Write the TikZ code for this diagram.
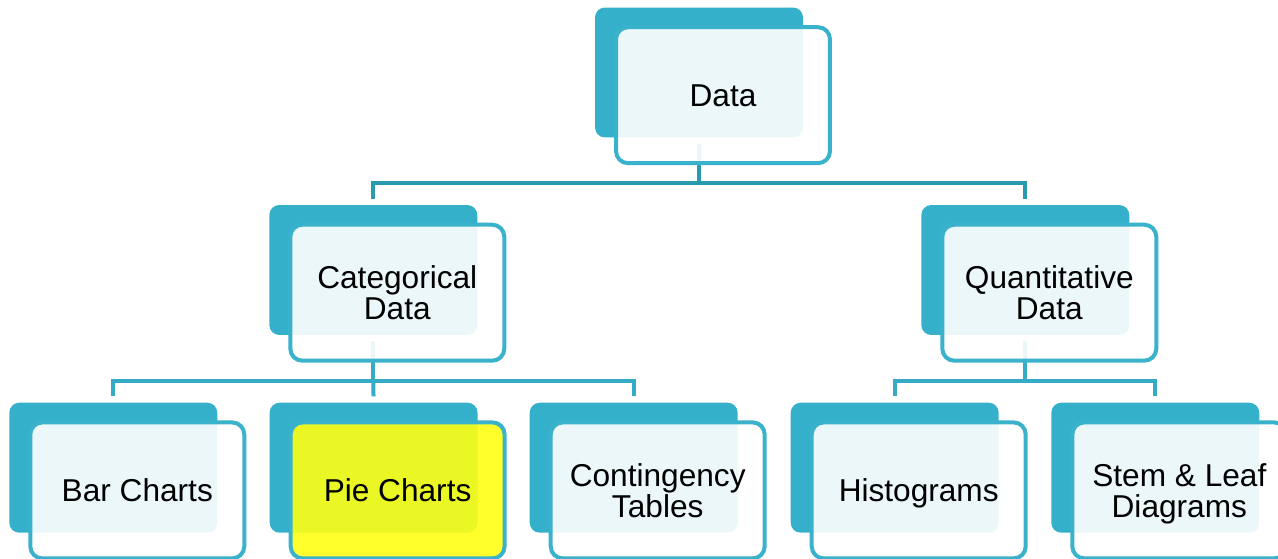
\documentclass[tikz,border=0pt]{standalone}
\usepackage{fontspec}
\setmainfont{Liberation Sans}
\usetikzlibrary{positioning}
\definecolor{cyanbox}{RGB}{53,176,203}
\definecolor{cyanedge}{RGB}{58,178,204}
\definecolor{linkdark}{RGB}{42,154,174}
\definecolor{linklight}{RGB}{53,171,198}
\definecolor{pieyellow}{RGB}{255,255,20}
\pgfdeclarelayer{links}
\pgfsetlayers{links,main}

\begin{document}
\begin{tikzpicture}[x=0.02cm,y=-0.02cm,
  back/.style={rectangle, rounded corners=0.2cm, fill=cyanbox,
    minimum width=4.16cm, minimum height=2.6cm, inner sep=0pt},
  front/.style={rectangle, rounded corners=0.24cm, draw=cyanedge,
    line width=0.08cm, fill=white, fill opacity=0.9, text opacity=1,
    minimum width=4.28cm, minimum height=2.72cm, inner sep=0pt,
    text depth=0pt, align=center, font=\fontsize{18}{18}\selectfont},
  link/.style={line width=0.08cm, shorten <=0.12cm, shorten >=0.12cm}]

%---------------------------------------
% Page size and offsets
%---------------------------------------
\useasboundingbox (0,0) rectangle (1278,558);
\def\dx{24}
\def\dy{22.7}
\def\rowA{72.5}
\def\rowB{270}
\def\rowC{467.7}

%====================================================
% TOP: Data
%====================================================
\node[back] (data-back) at (699,\rowA) {};
\node[front] (data) at ([shift={(\dx,\dy)}]data-back) {Data};

%====================================================
% MIDDLE: Categorical and Quantitative
%====================================================
\node[back] (cat-back) at (373.3,\rowB) {};
\node[front] (cat) at ([shift={(\dx,\dy)}]cat-back) {Categorical\\Data};

\node[back] (quant-back) at (1025.3,\rowB) {};
\node[front] (quant) at ([shift={(\dx,\dy)}]quant-back) {Quantitative\\Data};

%====================================================
% BOTTOM: chart types
%====================================================
\node[back] (bar-back) at (113.3,\rowC) {};
\node[front] (bar) at ([shift={(\dx,\dy)}]bar-back) {Bar Charts};

\node[back] (pie-back) at (373.6,\rowC) {};
\node[front, fill=pieyellow] (pie) at ([shift={(\dx,\dy)}]pie-back) {Pie Charts};

\node[back] (cont-back) at (633.7,\rowC) {};
\node[front] (cont) at ([shift={(\dx,\dy)}]cont-back) {Contingency\\Tables};

\node[back] (hist-back) at (894.7,\rowC) {};
\node[front] (hist) at ([shift={(\dx,\dy)}]hist-back) {Histograms};

\node[back] (stem-back) at (1155.3,\rowC) {};
\node[front] (stem) at ([shift={(\dx,\dy)}]stem-back) {Stem \& Leaf\\Diagrams};

%---------------------------------------
% Connectors (behind the boxes)
%---------------------------------------
\begin{pgfonlayer}{links}
  \coordinate (bus-data) at (699,183);
  \coordinate (bus-cat) at (373.3,380.7);
  \coordinate (bus-quant) at (1025.3,380.7);

  \draw[link, linkdark, shorten >=0pt] (data-back.south) -- (bus-data);
  \draw[link, linkdark, shorten <=0pt] (bus-data) -| (cat-back.north);
  \draw[link, linkdark, shorten <=0pt] (bus-data) -| (quant-back.north);

  \draw[link, linklight, shorten >=0pt] (cat-back.south) -- (bus-cat);
  \draw[link, linklight, shorten <=0pt] (bus-cat) -| (bar-back.north);
  \draw[link, linklight, shorten <=0pt] (bus-cat) -- (pie-back.north);
  \draw[link, linklight, shorten <=0pt] (bus-cat) -| (cont-back.north);

  \draw[link, linklight, shorten >=0pt] (quant-back.south) -- (bus-quant);
  \draw[link, linklight, shorten <=0pt] (bus-quant) -| (hist-back.north);
  \draw[link, linklight, shorten <=0pt] (bus-quant) -| (stem-back.north);
\end{pgfonlayer}

\end{tikzpicture}
\end{document}
